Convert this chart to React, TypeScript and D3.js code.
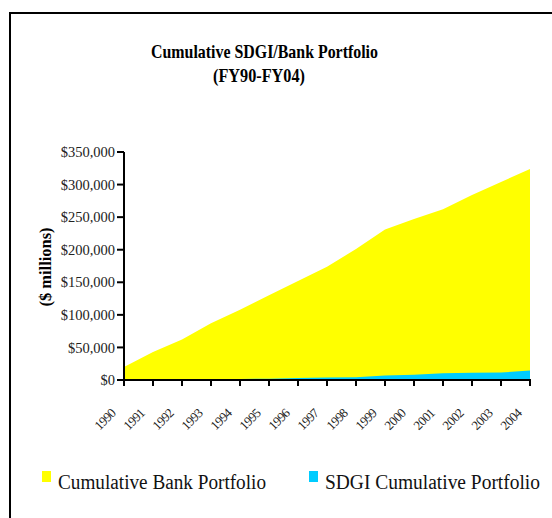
import React from 'react';
import * as d3 from 'd3';

const years = ['1990', '1991', '1992', '1993', '1994', '1995', '1996', '1997', '1998', '1999', '2000', '2001', '2002', '2003', '2004'];
const bankPortfolio = [20000, 43000, 62000, 87000, 108000, 130000, 152000, 174000, 201000, 231000, 247000, 262000, 284000, 304000, 324000];
const sdgiPortfolio = [0, 300, 600, 1000, 1500, 2000, 3200, 3800, 4300, 7000, 8200, 10500, 11000, 11500, 14500];
const yTicks = [0, 50000, 100000, 150000, 200000, 250000, 300000, 350000];

const serif = '"Liberation Serif", "Times New Roman", serif';

function App() {
    const margin = { left: 124, right: 22, top: 152, bottom: 138 };
    const width = 552;
    const height = 518;

    const x = d3.scalePoint<string>()
        .domain(years)
        .range([margin.left, width - margin.right]);

    const y = d3.scaleLinear()
        .domain([0, 350000])
        .range([height - margin.bottom, margin.top]);

    const area = d3.area<number>()
        .x((d, i) => x(years[i]) as number)
        .y0(y(0))
        .y1(d => y(d));

    const fmt = (v: number) => '$' + d3.format(',')(v);
    const y0 = y(0);

    return (
        <svg width={width} height={height} style={{ position: 'absolute', left: 0, top: 0 }} fontFamily={serif}>
            <rect x={10} y={13} width={560} height={540} fill="white" stroke="black" strokeWidth={2} />

            <text x={151} y={58} fontWeight="bold" fontSize={19} textLength={227} lengthAdjust="spacingAndGlyphs">Cumulative SDGI/Bank Portfolio</text>
            <text x={213} y={82} fontWeight="bold" fontSize={19} textLength={92} lengthAdjust="spacingAndGlyphs">(FY90-FY04)</text>

            <path d={area(bankPortfolio) || ''} fill="#ffff00" />
            <path d={area(sdgiPortfolio) || ''} fill="#00ccff" />

            {/* y axis */}
            <line x1={margin.left} x2={margin.left} y1={y(350000)} y2={y0 + 1} stroke="black" strokeWidth={2} />
            {yTicks.map(t => (
                <g key={t}>
                    <line x1={margin.left - 7} x2={margin.left} y1={y(t)} y2={y(t)} stroke="black" strokeWidth={2} />
                    <text x={115} y={y(t)} dy="0.35em" textAnchor="end" fontSize={14.5} fill="#222">{fmt(t)}</text>
                </g>
            ))}
            <text transform={`translate(51,267) rotate(-90)`} x={-39.5} fontWeight="bold" fontSize={16} textLength={79} lengthAdjust="spacingAndGlyphs">($ millions)</text>

            {/* x axis */}
            <line x1={margin.left - 1} x2={width - margin.right + 1} y1={y0} y2={y0} stroke="black" strokeWidth={2} />
            {years.map(yr => (
                <g key={yr}>
                    <line x1={x(yr)} x2={x(yr)} y1={y0} y2={y0 + 6} stroke="black" strokeWidth={2} />
                    <text transform={`translate(${(x(yr) as number) - 7.5},414) rotate(-45)`} textAnchor="end" fontSize={13} letterSpacing={-0.6} fill="#222">{yr}</text>
                </g>
            ))}

            {/* legend */}
            <rect x={42} y={471} width={9} height={11} fill="#ffff00" />
            <text x={58} y={489} fontSize={20} textLength={208} lengthAdjust="spacingAndGlyphs" fill="#111">Cumulative Bank Portfolio</text>
            <rect x={309} y={471} width={9} height={11} fill="#00ccff" />
            <text x={325} y={489} fontSize={20} textLength={215} lengthAdjust="spacingAndGlyphs" fill="#111">SDGI Cumulative Portfolio</text>
        </svg>
    );
}

export default App;
